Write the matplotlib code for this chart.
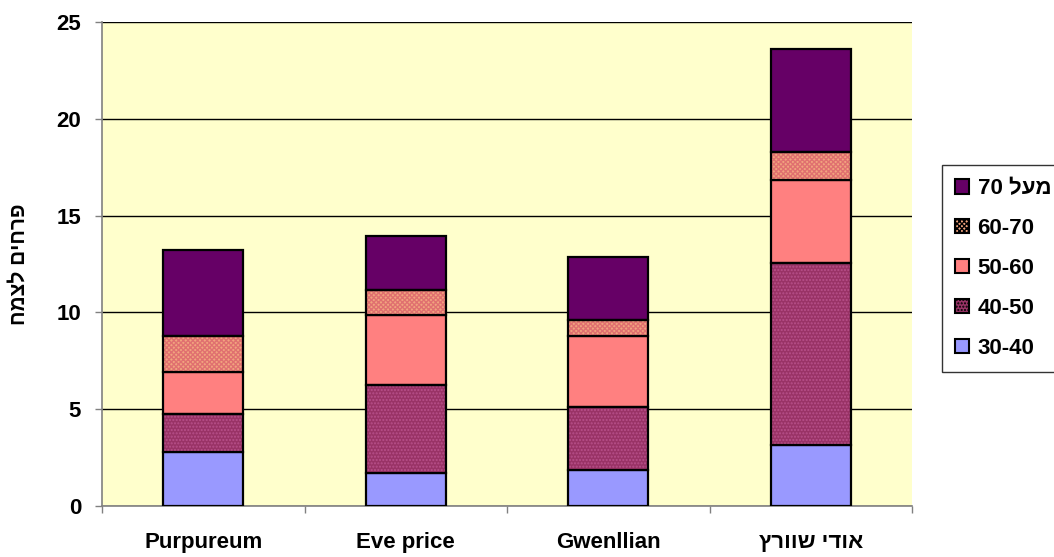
import matplotlib
matplotlib.use("Agg")
import matplotlib.pyplot as plt
import numpy as np

plt.rcParams['font.family'] = ['Liberation Sans', 'DejaVu Sans']
plt.rcParams['hatch.linewidth'] = 1.0

# Hebrew strings are given in visual order (matplotlib does no bidi reordering)
categories = ['Purpureum', 'Eve price', 'Gwenllian', 'אודי שוורץ'[::-1]]
series_names = ['30-40', '40-50', '50-60', '60-70', '70 ' + 'מעל'[::-1]]
s30_40 = [2.79, 1.70, 1.88, 3.14]
s40_50 = [1.98, 4.53, 3.23, 9.41]
s50_60 = [2.15, 3.62, 3.69, 4.31]
s60_70 = [1.86, 1.33, 0.83, 1.45]
s70_up = [4.46, 2.77, 3.23, 5.28]
y_label = 'פרחים לצמח'[::-1]
y_ticks = [0, 5, 10, 15, 20, 25]

series = [s30_40, s40_50, s50_60, s60_70, s70_up]
faces = ['#9999FF', '#993366', '#FF8080', '#F2A47E', '#660066']
hatches = [None, '.....', None, 'xxxxxxx', None]
hatch_cols = [None, '#B8508A', None, '#E07070', None]

fig = plt.figure(figsize=(10.54, 5.57), dpi=100)
ax = fig.add_axes([102/1054, 51/557, 810/1054, 484/557])
ax.set_facecolor('#FFFFCC')

x = np.arange(len(categories))
bottom = np.zeros(len(categories))
handles = []
for vals, name, fc, h, hc in zip(series, series_names, faces, hatches, hatch_cols):
    vals = np.array(vals)
    if h:
        bars = ax.bar(x, vals, 0.395, bottom=bottom, color=fc, hatch=h,
                      edgecolor=hc, linewidth=0, zorder=3, label=name)
        ax.bar(x, vals, 0.395, bottom=bottom, fill=False,
               edgecolor='black', linewidth=1.6, zorder=4)
    else:
        bars = ax.bar(x, vals, 0.395, bottom=bottom, color=fc,
                      edgecolor='black', linewidth=1.6, zorder=3, label=name)
    handles.append(bars)
    bottom += vals

ax.set_xlim(-0.5, 3.5)
ax.set_ylim(0, 25)
ax.set_yticks(y_ticks)
ax.yaxis.grid(True, color='black', linewidth=1, zorder=1)
ax.set_axisbelow(True)

ax.set_xticks(np.arange(-0.5, 4, 1))
ax.set_xticklabels([])
ax.set_xticks(x, minor=True)
ax.set_xticklabels(categories, minor=True, fontsize=16, fontweight='bold')
ax.tick_params(axis='x', which='major', length=5, color='#808080', width=1)
ax.tick_params(axis='x', which='minor', length=0, pad=19)
ax.tick_params(axis='y', length=5, color='#808080', width=1, pad=10)
for lab in ax.get_yticklabels():
    lab.set_fontsize(16)
    lab.set_fontweight('bold')

for s in ['top', 'right']:
    ax.spines[s].set_visible(False)
for s in ['left', 'bottom']:
    ax.spines[s].set_color('#808080')
    ax.spines[s].set_linewidth(1.2)

ax.set_ylabel(y_label, fontsize=15, fontweight='bold')
ax.yaxis.label.set_va('center')
ax.yaxis.set_label_coords(-(102 - 19) / 810, 0.5)

leg = fig.legend(handles[::-1], series_names[::-1], loc='upper left',
                 bbox_to_anchor=(942/1054, 1 - 165/557),
                 prop={'weight': 'bold', 'size': 16}, frameon=True, fancybox=False,
                 handlelength=0.6, handleheight=0.6, handletextpad=0.4,
                 labelspacing=0.85, borderpad=0.6, borderaxespad=0)
leg.get_frame().set_edgecolor('black')
leg.get_frame().set_linewidth(1.0)
for p in leg.get_patches():
    p.set_edgecolor('black')
    p.set_linewidth(1.5)

fig.savefig('out.png', dpi=100, facecolor='white')
